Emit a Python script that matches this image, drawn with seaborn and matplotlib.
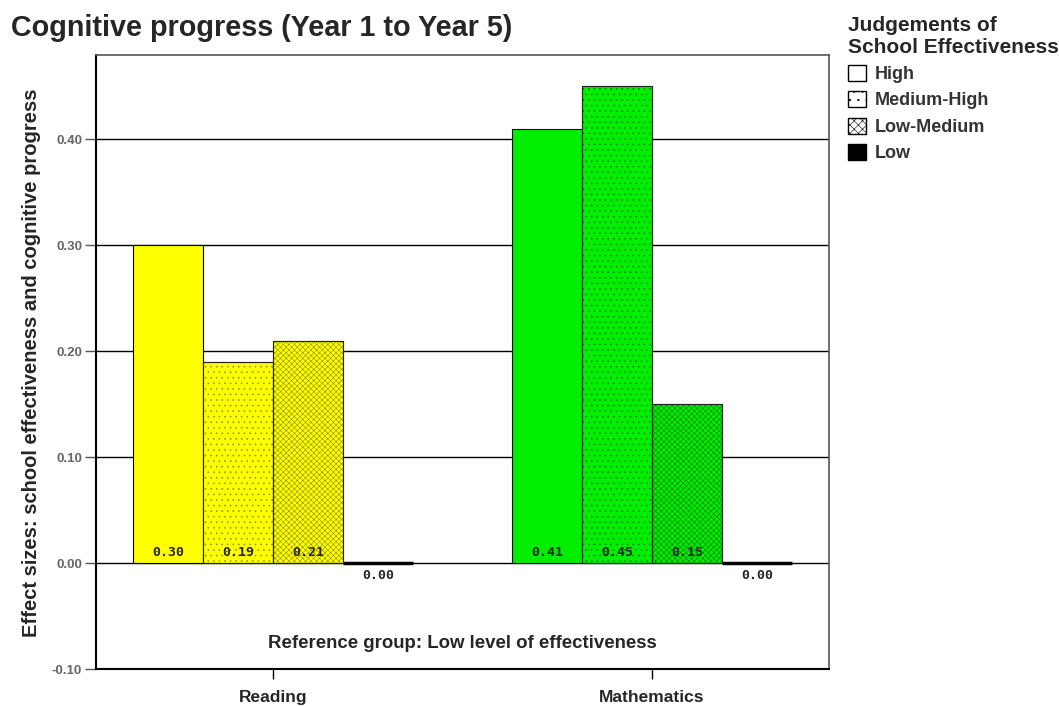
import matplotlib
matplotlib.use("Agg")
import matplotlib.pyplot as plt
import seaborn as sns
import pandas as pd
from matplotlib.patches import Patch

subjects = ["Reading", "Mathematics"]
levels = ["High", "Medium-High", "Low-Medium", "Low"]
reading_values = [0.30, 0.19, 0.21, 0.00]
math_values = [0.41, 0.45, 0.15, 0.00]
subject_colors = ["#FFFF00", "#00EE00"]
subject_hatch_colors = ["#8c8c00", "#007a00"]
level_hatches = [None, "...", "xxxxxx", None]
yticks = [-0.10, 0.00, 0.10, 0.20, 0.30, 0.40]

rows = []
for s, vals in zip(subjects, [reading_values, math_values]):
    for l, v in zip(levels, vals):
        rows.append({"Subject": s, "Level": l, "Value": v})
df = pd.DataFrame(rows)

sns.set_theme(style="white")
plt.rcParams["font.family"] = ["Liberation Sans", "DejaVu Sans"]
plt.rcParams["hatch.linewidth"] = 0.4

fig = plt.figure(figsize=(10.59, 7.06), dpi=100)
ax = fig.add_axes([0.0907, 0.0517, 0.6922, 0.8697])

sns.barplot(data=df, x="Subject", y="Value", hue="Level", order=subjects,
            hue_order=levels, width=0.74, ax=ax, legend=False,
            palette=["white"] * 4, edgecolor="black", linewidth=0.8,
            saturation=1, zorder=3)

mono = ["DejaVu Sans Mono", "DejaVu Sans"]
for li, cont in enumerate(ax.containers):
    for si, bar in enumerate(cont):
        if levels[li] == "Low":
            bar.set_facecolor("black")
            bar.set_linewidth(2.5)
        else:
            bar.set_facecolor(subject_colors[si])
            if level_hatches[li]:
                bar.set_hatch(level_hatches[li])
                bar.set_edgecolor(subject_hatch_colors[si])
                ax.add_patch(plt.Rectangle((bar.get_x(), bar.get_y()),
                                           bar.get_width(), bar.get_height(),
                                           fill=False, edgecolor="#222222",
                                           lw=0.8, zorder=4))
        v = bar.get_height()
        xc = bar.get_x() + bar.get_width() / 2
        if v > 0:
            ax.text(xc, 0.0105, f"{v:.2f}", ha="center", va="center",
                    fontsize=9.5, fontweight="bold", zorder=5, family=mono)
        else:
            ax.text(xc, -0.0115, f"{v:.2f}", ha="center", va="center",
                    fontsize=9.5, fontweight="bold", zorder=5, family=mono)

ax.set_ylim(-0.10, 0.479)
ax.set_xlim(-0.467, 1.467)
ax.set_yticks(yticks)
ax.set_yticklabels([f"{t:.2f}" for t in yticks], fontsize=9.5, color="#666666",
                   fontweight="bold")
for t in yticks[1:]:
    ax.axhline(t, color="black", lw=1.0, zorder=1)

ax.set_xticks([0, 1])
ax.set_xticklabels(subjects, fontsize=12.5, fontweight="bold")
ax.tick_params(axis="x", bottom=True, length=7, width=1, color="black", pad=8)
ax.tick_params(axis="y", left=True, length=8, width=1, color="#555555", pad=2)

ax.set_xlabel("")
ax.set_ylabel("Effect sizes: school effectiveness and cognitive progress",
              fontsize=14.5, fontweight="bold", labelpad=8)

for side in ["left", "bottom"]:
    ax.spines[side].set_color("black")
    ax.spines[side].set_linewidth(1.5)
for side in ["top", "right"]:
    ax.spines[side].set_color("#555555")
    ax.spines[side].set_linewidth(1.2)

ax.text(0.499, -0.0755, "Reference group: Low level of effectiveness",
        ha="center", va="center", fontsize=13.4, fontweight="bold")

fig.text(0.010, 0.949, "Cognitive progress (Year 1 to Year 5)", fontsize=20.7,
         fontweight="bold", ha="left", va="baseline")

handles = [
    Patch(facecolor="white", edgecolor="black", label="High"),
    Patch(facecolor="white", edgecolor="black", hatch="..", label="Medium-High"),
    Patch(facecolor="white", edgecolor="black", hatch="xxxx", label="Low-Medium"),
    Patch(facecolor="black", edgecolor="black", label="Low"),
]
leg = fig.legend(handles=handles, title="Judgements of\nSchool Effectiveness",
                 loc="upper left", bbox_to_anchor=(0.797, 0.983), frameon=False,
                 prop={"size": 13, "weight": "bold"}, handlelength=1.0,
                 handleheight=1.0, handletextpad=0.5, labelspacing=0.45,
                 borderaxespad=0, borderpad=0.2)
leg.get_title().set_fontweight("bold")
leg.get_title().set_fontsize(15)
leg._legend_box.align = "left"
for t in leg.get_texts():
    t.set_color("#333333")

fig.savefig("out.png", dpi=100)
